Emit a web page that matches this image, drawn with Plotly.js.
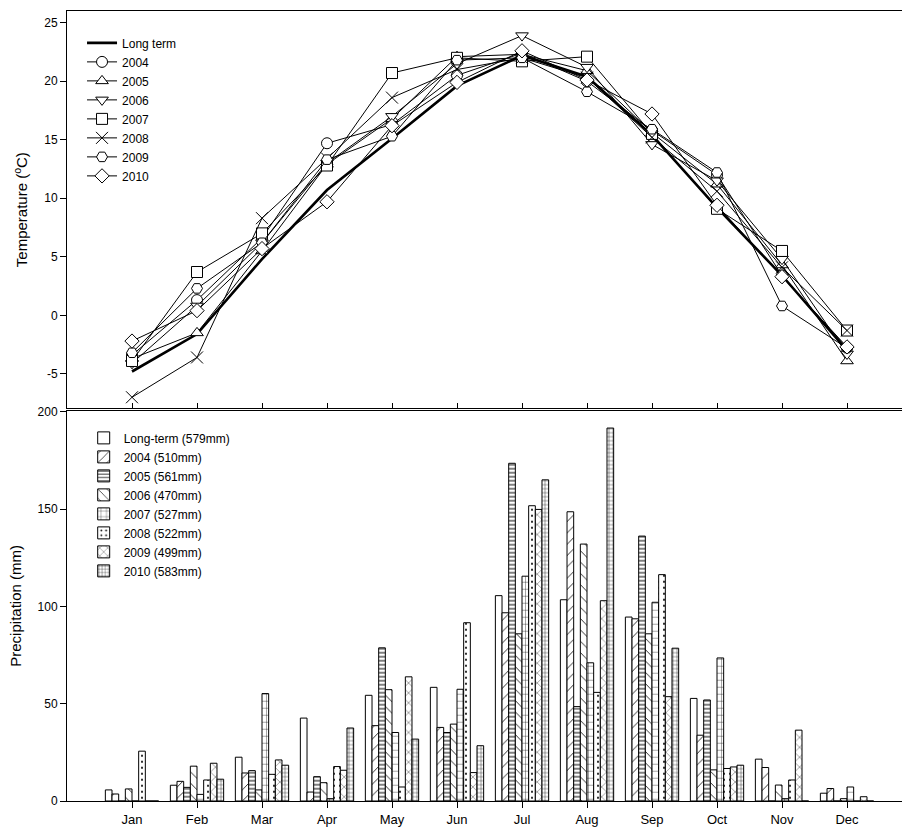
<!DOCTYPE html>
<html>
<head>
<meta charset="utf-8">
<script src="https://cdn.plot.ly/plotly-3.0.1.min.js"></script>
<style>html,body{margin:0;padding:0;background:#fff;}#chart{width:902px;height:830px;}</style>
</head>
<body>
<div id="chart"></div>
<script>
// ---- categories ----
const monthNums = [1,2,3,4,5,6,7,8,9,10,11,12];
const monthLabels = ['Jan','Feb','Mar','Apr','May','Jun','Jul','Aug','Sep','Oct','Nov','Dec'];

// ---- tick labels ----
const tempTicks = [-5,0,5,10,15,20,25];
const tempTickLabels = ['-5','0','5','10','15','20','25'];
const precTicks = [0,50,100,150,200];

// ---- temperature (°C) ----
const tempLongTerm = [-4.8, -1.6, 4.8, 10.7, 15.1, 19.6, 22.2, 20.4, 15.4, 9.2, 3.4, -3.0];
const temp2004 = [-3.4, 1.3, 6.6, 14.7, 16.3, 20.5, 22.4, 20.0, 15.8, 12.0, 3.4, -2.8];
const temp2005 = [-3.7, -1.5, 5.5, 12.9, 16.8, 22.1, 22.3, 20.9, 15.6, 11.2, 4.3, -3.9];
const temp2006 = [-4.1, 0.8, 6.2, 13.0, 17.0, 21.5, 23.9, 21.2, 14.6, 11.5, 4.8, -3.3];
const temp2007 = [-3.9, 3.7, 7.0, 12.8, 20.7, 22.0, 21.7, 22.1, 15.5, 9.1, 5.5, -1.3];
const temp2008 = [-7.0, -3.6, 8.3, 13.4, 18.6, 21.0, 22.0, 20.3, 15.2, 10.6, 4.1, -1.3];
const temp2009 = [-3.2, 2.3, 6.2, 13.3, 15.3, 21.8, 22.0, 19.1, 15.9, 12.2, 0.8, -2.8];
const temp2010 = [-2.2, 0.4, 5.7, 9.7, 16.2, 19.9, 22.6, 20.1, 17.2, 9.4, 3.3, -2.7];

// ---- precipitation (mm) ----
const precLongTerm = [5.7, 8.1, 22.5, 42.6, 54.3, 58.4, 105.5, 103.4, 94.5, 52.7, 21.5, 4.0];
const prec2004 = [3.6, 10.1, 14.4, 4.6, 38.7, 37.8, 96.7, 148.6, 93.6, 33.8, 17.2, 6.4];
const prec2005 = [0, 7.0, 15.6, 12.5, 78.7, 35.2, 173.5, 48.5, 136.1, 51.9, 0, 0];
const prec2006 = [6.2, 17.9, 5.7, 9.4, 57.2, 39.5, 85.9, 132.0, 85.9, 16.0, 8.2, 1.2];
const prec2007 = [0, 3.4, 55.2, 1.2, 35.2, 57.4, 115.5, 71.0, 102.1, 73.5, 1.2, 7.2];
const prec2008 = [25.6, 10.8, 13.7, 17.7, 7.2, 91.6, 151.7, 55.8, 116.3, 16.7, 10.8, 0];
const prec2009 = [0, 19.4, 21.1, 15.8, 63.8, 14.6, 149.8, 102.9, 53.6, 17.5, 36.4, 2.2];
const prec2010 = [0, 11.2, 18.4, 37.5, 31.8, 28.4, 165.0, 191.6, 78.5, 18.4, 0, 0];

// ---- series names ----
const tempNames = ['Long term','2004','2005','2006','2007','2008','2009','2010'];
const precNames = ['Long-term (579mm)','2004 (510mm)','2005 (561mm)','2006 (470mm)','2007 (527mm)','2008 (522mm)','2009 (499mm)','2010 (583mm)'];

const FONT = 'Liberation Sans, Arial, sans-serif';

const tempSeries = [temp2004, temp2005, temp2006, temp2007, temp2008, temp2009, temp2010];
const tempSymbols = ['circle','triangle-up','triangle-down','square','x-thin-open','hexagon2','diamond'];
const tempSizes = [11, 11, 11, 11, 12, 11, 11];

const traces = [];
traces.push({
  type:'scatter', mode:'lines', x:monthNums, y:tempLongTerm, name:tempNames[0],
  line:{color:'black', width:2.6}, xaxis:'x', yaxis:'y', legend:'legend'
});
tempSeries.forEach((s,i)=>{
  const sym = tempSymbols[i];
  const isOpen = sym.indexOf('open') >= 0;
  traces.push({
    type:'scatter', mode:'lines+markers', x:monthNums, y:s, name:tempNames[i+1],
    line:{color:'black', width:1},
    marker:{symbol:sym, size:tempSizes[i], color: isOpen ? 'black' : 'white', line:{color:'black', width:1}},
    xaxis:'x', yaxis:'y', legend:'legend'
  });
});

const precSeries = [precLongTerm, prec2004, prec2005, prec2006, prec2007, prec2008, prec2009, prec2010];
const patterns = [
  null,
  {shape:'/', size:8, solidity:0.1},
  {shape:'-', size:4, solidity:0.25},
  {shape:'\\', size:8, solidity:0.1},
  {shape:'+', size:7, solidity:0.1},
  {shape:'.', size:6, solidity:0.1},
  {shape:'x', size:7, solidity:0.1},
  {shape:'+', size:4, solidity:0.18}
];
precSeries.forEach((s,i)=>{
  const marker = {color:'white', line:{color:'black', width:1}};
  if (patterns[i]) {
    marker.pattern = Object.assign({fgcolor:'black', bgcolor:'white', fillmode:'replace'}, patterns[i]);
  }
  traces.push({
    type:'bar', x:monthNums, y:s, name:precNames[i], marker:marker,
    xaxis:'x2', yaxis:'y2', legend:'legend2'
  });
});

const xRange = [0, 12.846];
const layout = {
  width:902, height:830,
  margin:{l:67, r:0, t:11, b:29},
  paper_bgcolor:'white', plot_bgcolor:'white',
  font:{family:FONT, size:12, color:'black'},
  barmode:'group', bargap:0.18, bargroupgap:0,
  showlegend:true,
  xaxis:{
    domain:[0,1], range:xRange, anchor:'y',
    tickvals:monthNums, ticktext:monthLabels, showticklabels:false,
    ticks:'inside', ticklen:5, tickcolor:'black', tickwidth:1,
    showline:true, linecolor:'black', linewidth:1, mirror:true,
    showgrid:false, zeroline:false
  },
  yaxis:{
    domain:[0.497,1], range:[-7.95,26], anchor:'x',
    tickvals:tempTicks, ticktext:tempTickLabels,
    ticks:'outside', ticklen:6, tickcolor:'black', tickwidth:1,
    showline:true, linecolor:'black', linewidth:1,
    showgrid:false, zeroline:false,
    tickfont:{size:12, family:FONT},
    title:{text:'Temperature (<sup>o</sup>C)', font:{size:15, family:FONT}, standoff:12}
  },
  xaxis2:{
    domain:[0,1], range:xRange, anchor:'y2',
    tickvals:monthNums, ticktext:monthLabels,
    ticks:'outside', ticklen:6, tickcolor:'black', tickwidth:1,
    showline:true, linecolor:'black', linewidth:1, mirror:true,
    showgrid:false, zeroline:false,
    tickfont:{size:13, family:FONT}
  },
  yaxis2:{
    domain:[0,0.494], range:[0,200.5], anchor:'x2',
    tickvals:precTicks,
    ticks:'outside', ticklen:6, tickcolor:'black', tickwidth:1,
    showline:true, linecolor:'black', linewidth:1,
    showgrid:false, zeroline:false,
    tickfont:{size:12, family:FONT},
    title:{text:'Precipitation (mm)', font:{size:15, family:FONT}, standoff:12}
  },
  legend:{
    x:0.018, y:0.978, xanchor:'left', yanchor:'top',
    bgcolor:'rgba(0,0,0,0)', borderwidth:0,
    font:{size:12, family:FONT}, tracegroupgap:0
  },
  legend2:{
    x:0.02, y:0.478, xanchor:'left', yanchor:'top',
    bgcolor:'rgba(0,0,0,0)', borderwidth:0,
    font:{size:12, family:FONT}, tracegroupgap:0
  }
};

Plotly.newPlot('chart', traces, layout, {displayModeBar:false, staticPlot:true});
</script>
</body>
</html>
